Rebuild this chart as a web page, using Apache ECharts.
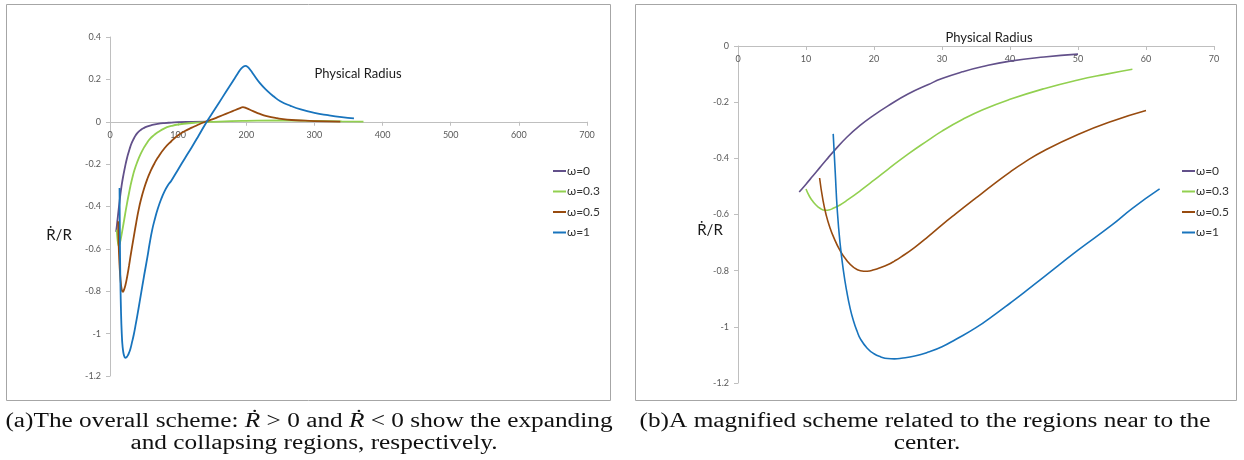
<!DOCTYPE html>
<html><head><meta charset="utf-8">
<script src="https://cdn.jsdelivr.net/npm/echarts@6/dist/echarts.min.js"></script>
<style>html,body{margin:0;padding:0;background:#fff}#c{width:1244px;height:460px}</style>
</head><body><div id="c"></div><script>
// ---- data (Physical Radius, Rdot/R) ----
const seriesNames = ['ω=0', 'ω=0.3', 'ω=0.5', 'ω=1'];

// near-centre part (shown in both panels)
const omega0Near = [[9,-0.52],[10,-0.492],[11,-0.463],[12,-0.434],[13,-0.405],[14,-0.377],[16,-0.325],[18,-0.282],[20,-0.246],[22,-0.214],[25,-0.171],[28,-0.137],[30,-0.116],[33,-0.092],[36,-0.073],[40,-0.054],[45,-0.039],[50,-0.029]];
const omega03Near = [[10,-0.509],[10.5,-0.535],[11,-0.553],[11.5,-0.567],[12,-0.577],[12.8,-0.585],[13.5,-0.583],[14,-0.578],[15,-0.566],[16,-0.55],[18,-0.515],[20,-0.478],[22,-0.44],[25,-0.385],[28,-0.335],[30,-0.303],[33,-0.262],[36,-0.227],[40,-0.19],[45,-0.152],[50,-0.121],[54,-0.101],[58,-0.083]];
const omega05Near = [[12,-0.47],[12.5,-0.55],[13,-0.605],[13.5,-0.645],[14,-0.677],[15,-0.728],[16,-0.764],[17,-0.788],[18,-0.8],[19,-0.802],[20,-0.797],[21,-0.789],[22,-0.779],[23,-0.766],[24,-0.751],[26,-0.717],[28,-0.678],[30,-0.637],[32,-0.598],[35,-0.541],[38,-0.485],[40,-0.449],[42,-0.416],[45,-0.373],[50,-0.315],[55,-0.268],[60,-0.23]];
const omega1Near = [[14,-0.313],[14.3,-0.45],[14.6,-0.585],[15,-0.7],[15.5,-0.8],[16,-0.875],[16.5,-0.935],[17,-0.98],[17.5,-1.015],[18,-1.043],[19,-1.076],[20,-1.096],[21,-1.107],[22,-1.113],[23,-1.114],[24,-1.112],[26,-1.104],[28,-1.09],[30,-1.071],[32,-1.045],[35,-1.003],[38,-0.952],[40,-0.916],[42,-0.879],[45,-0.822],[50,-0.727],[55,-0.637],[58,-0.578],[62,-0.509]];

// far part (only in the overall panel)
const omega0Far = [[55,-0.022],[60,-0.017],[70,-0.01],[80,-0.006],[90,-0.004],[100,-0.002],[120,-0.001],[145,0]];
const omega03Far = [[65,-0.062],[70,-0.05],[80,-0.031],[90,-0.02],[100,-0.013],[120,-0.006],[140,-0.002],[160,0.001],[200,0.004],[250,0.006],[300,0.004],[340,0.002],[372,0.001]];
const omega05Far = [[65,-0.198],[70,-0.17],[80,-0.125],[90,-0.092],[100,-0.064],[110,-0.044],[120,-0.028],[130,-0.013],[140,0],[150,0.011],[160,0.024],[170,0.037],[180,0.05],[190,0.063],[195,0.069],[200,0.064],[210,0.05],[220,0.037],[230,0.027],[245,0.017],[260,0.01],[280,0.006],[300,0.003],[338,0.001]];
const omega1Far = [[66,-0.457],[70,-0.412],[75,-0.366],[80,-0.329],[85,-0.3],[90,-0.278],[100,-0.225],[110,-0.172],[120,-0.12],[130,-0.066],[142,0],[150,0.04],[160,0.09],[170,0.14],[180,0.19],[187,0.225],[192,0.249],[196,0.261],[199,0.264],[202,0.259],[206,0.244],[212,0.217],[220,0.182],[230,0.148],[240,0.12],[250,0.097],[265,0.075],[280,0.058],[300,0.042],[320,0.031],[340,0.022],[358,0.016]];

const nearSets = [omega0Near, omega03Near, omega05Near, omega1Near];
const farSets = [omega0Far, omega03Far, omega05Far, omega1Far];

// axis ranges
const xRangeA = [0, 700, 100], yRangeA = [-1.2, 0.4, 0.2];
const xRangeB = [0, 70, 10], yRangeB = [-1.2, 0, 0.2];

const captionA1 = '(a)The overall scheme: {i|Ṙ} > 0 and {i|Ṙ} < 0 show the expanding';
const captionA2 = 'and collapsing regions, respectively.';
const captionB1 = '(b)A magnified scheme related to the regions near to the';
const captionB2 = 'center.';

// ---- styling / layout ----
const colors = ['#62508A', '#92D050', '#984B0F', '#1874BD'];
const FONT = 'Lato, "Noto Sans", "DejaVu Sans", sans-serif';
const SERIF = '"Liberation Serif", "DejaVu Serif", serif';
const capSize = 20;
const H = 460;
const gridA = { left: 110, right: 657, top: 37, bottom: 84 };
const gridB = { left: 738, right: 30, top: 46, bottom: 77 };

const ctx = document.createElement('canvas').getContext('2d');
ctx.font = capSize + 'px ' + SERIF;
const capScale = 610 / ctx.measureText(captionA1.replace(/\{i\|Ṙ\}/g, 'R')).width;

// place the x axis line at y = 0 (offset from the bottom edge of the grid)
function zeroOffset(grid, yr) {
  const h = H - grid.top - grid.bottom;
  return -h * (0 - yr[0]) / (yr[1] - yr[0]);
}

function axisBase(extra) {
  return Object.assign({
    type: 'value',
    axisLine: { show: true, onZero: false, lineStyle: { color: '#BFBFBF', width: 1 } },
    axisTick: { show: true, length: 4, lineStyle: { color: '#BFBFBF' } },
    axisLabel: { color: '#595959', fontSize: 9, fontFamily: FONT, margin: 9 },
    splitLine: { show: false }
  }, extra);
}

const series = [];
seriesNames.forEach((n, i) => {
  series.push({ name: n, type: 'line', xAxisIndex: 0, yAxisIndex: 0, data: nearSets[i].concat(farSets[i]),
    showSymbol: false, symbol: 'none', smooth: 0.5, color: colors[i],
    lineStyle: { width: 1.8, color: colors[i] }, z: i === 3 ? 5 : 3 });
  series.push({ name: n, type: 'line', xAxisIndex: 1, yAxisIndex: 1, data: nearSets[i],
    showSymbol: false, symbol: 'none', smooth: 0.5, color: colors[i],
    lineStyle: { width: 1.6, color: colors[i] } });
});

function legendAt(left) {
  return { data: seriesNames, orient: 'vertical', left: left, top: 164, padding: 0,
    icon: 'rect', itemWidth: 13, itemHeight: 2, itemGap: 6.5,
    textStyle: { fontSize: 12, lineHeight: 14, color: '#333', fontFamily: FONT, padding: [0, 0, 0, -4] } };
}

function capText(x, y, txt) {
  return { type: 'text', x: x, y: y, scaleX: capScale, silent: true,
    style: { text: txt, fontSize: capSize, fontFamily: SERIF, fill: '#111', align: 'center', verticalAlign: 'middle',
      rich: { i: { fontSize: capSize, fontFamily: SERIF, fontStyle: 'italic', fill: '#111' } } } };
}
function label(x, y, txt, size) {
  return { type: 'text', x: x, y: y, silent: true,
    style: { text: txt, fontSize: size, fontFamily: FONT, fill: '#1a1a1a', align: 'center', verticalAlign: 'middle' } };
}

const option = {
  animation: false,
  backgroundColor: '#fff',
  grid: [gridA, gridB],
  xAxis: [
    axisBase({ gridIndex: 0, min: xRangeA[0], max: xRangeA[1], interval: xRangeA[2], position: 'bottom', offset: zeroOffset(gridA, yRangeA) }),
    axisBase({ gridIndex: 1, min: xRangeB[0], max: xRangeB[1], interval: xRangeB[2], position: 'bottom', offset: zeroOffset(gridB, yRangeB) })
  ],
  yAxis: [
    axisBase({ gridIndex: 0, min: yRangeA[0], max: yRangeA[1], interval: yRangeA[2] }),
    axisBase({ gridIndex: 1, min: yRangeB[0], max: yRangeB[1], interval: yRangeB[2] })
  ],
  legend: [legendAt(553), legendAt(1182)],
  series: series,
  graphic: [
    { type: 'rect', silent: true, shape: { x: 6.5, y: 4.5, width: 604, height: 396 }, style: { fill: 'none', stroke: '#A6A6A6', lineWidth: 1 } },
    { type: 'rect', silent: true, shape: { x: 635.5, y: 4.5, width: 601, height: 396 }, style: { fill: 'none', stroke: '#A6A6A6', lineWidth: 1 } },
    label(358, 74, 'Physical Radius', 13),
    label(989, 38, 'Physical Radius', 13),
    label(59, 235, 'Ṙ/R', 15),
    label(710, 230, 'Ṙ/R', 15),
    capText(309, 422, captionA1),
    capText(314, 444, captionA2),
    capText(925, 422, captionB1),
    capText(927, 444, captionB2)
  ]
};

echarts.init(document.getElementById('c')).setOption(option);
</script></body></html>
